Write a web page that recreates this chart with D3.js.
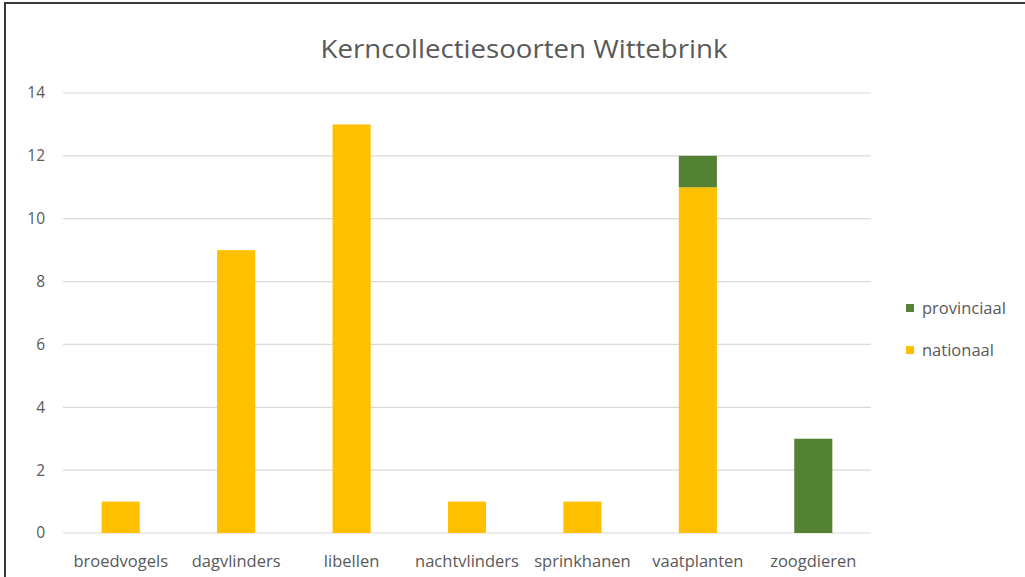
<!DOCTYPE html>
<html>
<head>
<meta charset="utf-8">
<script src="https://cdn.jsdelivr.net/npm/d3@7"></script>
<style>
  body { margin: 0; background: #fff; }
  text { font-family: "Open Sans", "Noto Sans", sans-serif; }
</style>
</head>
<body>
<svg id="chart" width="1025" height="577"></svg>
<script>
const categories = ["broedvogels", "dagvlinders", "libellen", "nachtvlinders", "sprinkhanen", "vaatplanten", "zoogdieren"];
const nationaal = [1, 9, 13, 1, 1, 11, 0];
const provinciaal = [0, 0, 0, 0, 0, 1, 3];
const seriesNames = ["nationaal", "provinciaal"];
const yTicks = [0, 2, 4, 6, 8, 10, 12, 14];

const colors = { nationaal: "#FFC000", provinciaal: "#548235" };

const svg = d3.select("#chart");

// outer frame
svg.append("rect").attr("x", 5).attr("y", 3).attr("width", 1030).attr("height", 600)
  .attr("fill", "#fff").attr("stroke", "#3a3a3a").attr("stroke-width", 2);

const plotLeft = 63, plotRight = 871, plotTop = 93, plotBottom = 533;

const x = d3.scaleBand().domain(categories).range([plotLeft, plotRight]).paddingInner(0.67).paddingOuter(0.335);
const y = d3.scaleLinear().domain([0, 14]).range([plotBottom, plotTop]);

// gridlines
svg.append("g").selectAll("line").data(yTicks).enter().append("line")
  .attr("x1", plotLeft).attr("x2", plotRight)
  .attr("y1", d => y(d)).attr("y2", d => y(d))
  .attr("stroke", "#d9d9d9").attr("stroke-width", 1.2);

// y axis labels
const yAxis = d3.axisLeft(y).tickValues(yTicks).tickSize(0).tickPadding(0);
const gy = svg.append("g").attr("transform", `translate(${plotLeft - 18},0)`).call(yAxis);
gy.select(".domain").remove();
gy.selectAll("text").attr("fill", "#595959").style("font-size", "15.5px");

// stacked bars
const table = categories.map((c, i) => ({ cat: c, nationaal: nationaal[i], provinciaal: provinciaal[i] }));
const stack = d3.stack().keys(seriesNames)(table);

svg.append("g").selectAll("g").data(stack).enter().append("g")
  .attr("fill", d => colors[d.key])
  .selectAll("rect").data(d => d).enter().append("rect")
  .attr("x", d => x(d.data.cat))
  .attr("width", x.bandwidth())
  .attr("y", d => y(d[1]))
  .attr("height", d => y(d[0]) - y(d[1]));

// x axis labels
const xAxis = d3.axisBottom(x).tickSize(0).tickPadding(0);
const gx = svg.append("g").attr("transform", `translate(0,${plotBottom + 22})`).call(xAxis);
gx.select(".domain").remove();
gx.selectAll("text").attr("fill", "#595959").style("font-size", "16.5px");

// title
svg.append("text").attr("x", 524).attr("y", 58).attr("text-anchor", "middle")
  .attr("fill", "#595959").style("font-size", "26px")
  .attr("textLength", 407).attr("lengthAdjust", "spacingAndGlyphs")
  .text("Kerncollectiesoorten Wittebrink");

// legend
const legendItems = ["provinciaal", "nationaal"];
const lg = svg.append("g").selectAll("g").data(legendItems).enter().append("g")
  .attr("transform", (d, i) => `translate(906,${308 + i * 42})`);
lg.append("rect").attr("x", 0).attr("y", -4).attr("width", 8).attr("height", 8)
  .attr("fill", d => colors[d]);
lg.append("text").attr("x", 16).attr("y", 0).attr("dy", "0.35em")
  .attr("fill", "#595959").style("font-size", "16.5px").text(d => d);
</script>
</body>
</html>
